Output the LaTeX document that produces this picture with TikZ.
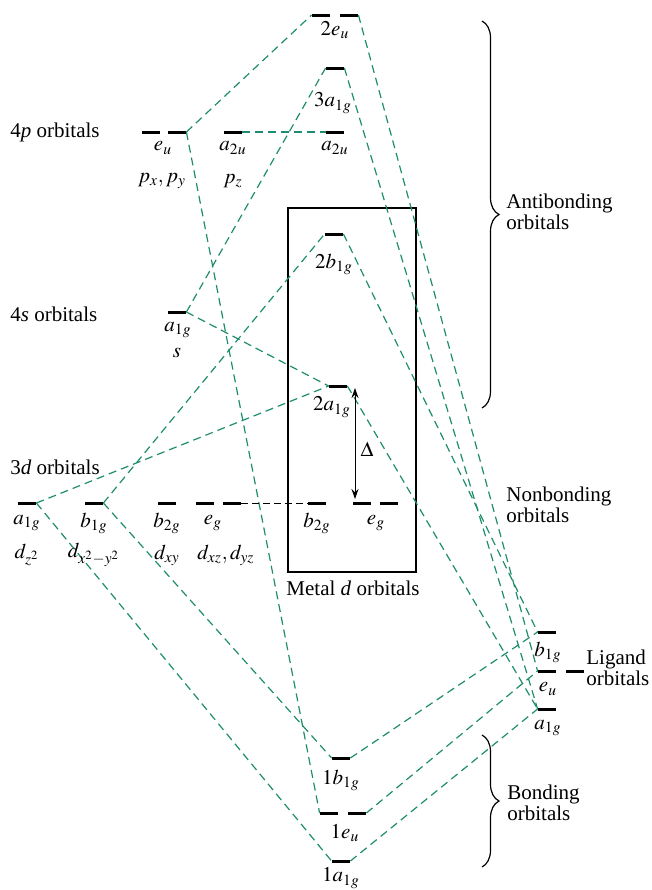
\documentclass[tikz,border=0pt]{standalone}
\usepackage{mathptmx}
\usepackage{fontspec}
\setmainfont{Liberation Serif}
\usetikzlibrary{arrows.meta,positioning,decorations.pathreplacing}
\definecolor{cG}{HTML}{1E8C6E}
\tikzset{
  lvl/.style={fill=black,inner sep=0pt,minimum width=9pt,minimum height=1.5pt},
  corr/.style={cG,line width=0.6pt,dash pattern=on 4pt off 2.5pt},
  nbond/.style={black,line width=0.5pt,dash pattern=on 3.5pt off 2pt},
  lab/.style={inner sep=0pt,font=\fontsize{10.5}{9}\selectfont},
  txt/.style={inner sep=0pt,anchor=west,align=left,font=\fontsize{10.5}{9}\selectfont},
  brc/.style={decorate,decoration={brace,amplitude=8.5pt},line width=0.6pt},
  gap/.style={{Stealth[length=5pt,width=3.5pt]}-{Stealth[length=5pt,width=3.5pt]},line width=0.5pt},
}

\begin{document}
\begin{tikzpicture}[x=0.5pt,y=-0.5pt]
  \useasboundingbox (0,0) rectangle (652,890);
  \draw[line width=1.3pt](288,208) rectangle (416,572);
  \node[lvl](eu2a) at (321,15){};
  \node[lvl](eu2b) at (349,15){};
  \node[lvl](ag3) at (335,68){};
  \node[lvl](au2) at (335,132){};
  \node[lvl](peua) at (151,132){};
  \node[lvl](peub) at (177,132){};
  \node[lvl](pau) at (233,132){};
  \node[lvl](bg2) at (334,234){};
  \node[lvl](sag) at (177,312){};
  \node[lvl](ag2) at (338,386){};
  \node[lvl](dag) at (27,503){};
  \node[lvl](dbg) at (94,503){};
  \node[lvl](dbtg) at (167,503){};
  \node[lvl](dega) at (205,503){};
  \node[lvl](degb) at (232,503){};
  \node[lvl](mbtg) at (317,503){};
  \node[lvl](mega) at (362,503){};
  \node[lvl](megb) at (389,503){};
  \node[lvl](lbg) at (547,632){};
  \node[lvl](leua) at (547,671){};
  \node[lvl](leub) at (575,671){};
  \node[lvl](lag) at (547,709){};
  \node[lvl](bg1) at (341,758){};
  \node[lvl](eu1a) at (329,813){};
  \node[lvl](eu1b) at (357,813){};
  \node[lvl](ag1) at (341,861){};
  \draw[corr](peub.east)--(eu2a.west);
  \draw[corr](eu2b.east)--(leua.west);
  \draw[corr](peub.east)--(eu1a.west);
  \draw[corr](pau.east)--(au2.west);
  \draw[corr](sag.east)--(ag3.west);
  \draw[corr](sag.east)--(ag2.west);
  \draw[corr](ag3.east)--(lag.west);
  \draw[corr](dbg.east)--(bg2.west);
  \draw[corr](bg2.east)--(lbg.west);
  \draw[corr](dag.east)--(ag2.west);
  \draw[corr](ag2.east)--(lag.west);
  \draw[corr](dag.east)--(ag1.west);
  \draw[corr](dbg.east)--(bg1.west);
  \draw[corr](bg1.east)--(lbg.west);
  \draw[corr](eu1b.east)--(leua.west);
  \draw[corr](ag1.east)--(lag.west);
  \draw[nbond](degb.east)--(mbtg.west);
  \coordinate(dtop) at (355,388);
  \coordinate(dbot) at (355,499);
  \draw[gap](dtop)--(dbot);
  \node[lab](dl) at (367,449){$\Delta$};
  \node[lab](eu2l) at (335,30){$2e_u$};
  \node[lab](ag3l) at (333,103){$3a_{1g}$};
  \node[lab](au2l) at (335,148){$a_{2u}$};
  \node[lab](peul) at (163,148){$e_u$};
  \node[lab](pxy) at (162,181){$p_x, p_y$};
  \node[lab](paul) at (233,148){$a_{2u}$};
  \node[lab](pz) at (233,181){$p_z$};
  \node[lab](bg2l) at (334,264){$2b_{1g}$};
  \node[lab](sagl) at (178,330){$a_{1g}$};
  \node[lab](ss) at (177,353){$s$};
  \node[lab](ag2l) at (332,407){$2a_{1g}$};
  \node[lab](dagl) at (27,523){$a_{1g}$};
  \node[lab](dz) at (27,555){$d_{z^2}$};
  \node[lab](dbgl) at (94,523){$b_{1g}$};
  \node[lab](dxy2) at (94,555){$d_{x^2-y^2}$};
  \node[lab](dbtgl) at (167,523){$b_{2g}$};
  \node[lab](dxy) at (167,555){$d_{xy}$};
  \node[lab](degl) at (213,523){$e_g$};
  \node[lab](dxz) at (226,555){$d_{xz}, d_{yz}$};
  \node[lab](mbtgl) at (317,523){$b_{2g}$};
  \node[lab](megl) at (376,523){$e_g$};
  \node[lab](lbgl) at (548,652){$b_{1g}$};
  \node[lab](leul) at (548,689){$e_u$};
  \node[lab](lagl) at (548,728){$a_{1g}$};
  \node[lab](bg1l) at (341,780){$1b_{1g}$};
  \node[lab](eu1l) at (345,833){$1e_u$};
  \node[lab](ag1l) at (341,878){$1a_{1g}$};
  \node[txt](p4) at (10,132){4\textit{p} orbitals};
  \node[txt](s4) at (10,314){4\textit{s} orbitals};
  \node[txt](d3) at (10,467){3\textit{d} orbitals};
  \node[lab](metal) at (353,588){Metal \textit{d} orbitals};
  \node[txt](anti) at (506,212){Antibonding\\orbitals};
  \node[txt](nonb) at (506,505){Nonbonding\\orbitals};
  \node[txt](lig) at (586,668){Ligand\\orbitals};
  \node[txt](bond) at (507,803){Bonding\\orbitals};
  \draw[brc](482,21)--(482,408);
  \draw[brc](482,735)--(482,867);
\end{tikzpicture}
\end{document}
